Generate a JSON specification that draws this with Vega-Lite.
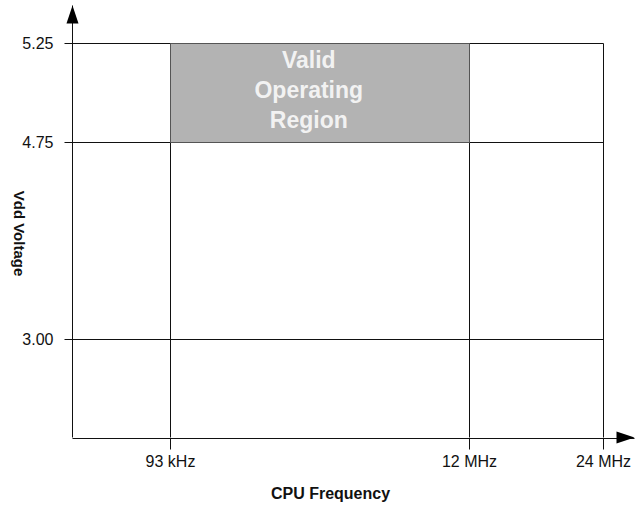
{
  "$schema": "https://vega.github.io/schema/vega-lite/v6.json",
  "width": 563,
  "height": 433,
  "autosize": {"type": "none"},
  "padding": {"left": 72.5, "top": 5.5, "right": 0, "bottom": 67.5},
  "background": "white",
  "config": {"view": {"stroke": null}, "font": "Liberation Sans"},
  "encoding": {
    "x": {
      "field": "f", "type": "quantitative",
      "scale": {"domain": [0, 93, 12000, 24000, 28000], "range": [0, 98, 397, 531, 562], "nice": false, "zero": false},
      "axis": {
        "values": [93, 12000, 24000],
        "labelExpr": "datum.value == 93 ? '93 kHz' : datum.value == 12000 ? '12 MHz' : '24 MHz'",
        "translate": 0,
        "grid": false, "tickSize": 11, "tickColor": "#111", "domainColor": "#111",
        "labelFontSize": 16, "labelColor": "#111", "labelPadding": 4, "labelOverlap": false, "labelFlush": false,
        "title": "CPU Frequency", "titleFontSize": 16, "titleFontWeight": "bold", "titleColor": "#111",
        "titleX": 258, "titleY": 60, "titleBaseline": "alphabetic", "titleAlign": "center"
      }
    },
    "y": {
      "field": "v", "type": "quantitative",
      "scale": {"domain": [0, 3, 4.75, 5.25, 5.6], "range": [432, 334, 137, 38, 0], "nice": false, "zero": false},
      "axis": {
        "values": [3, 4.75, 5.25], "format": ".2f",
        "translate": 0,
        "grid": false, "tickSize": 8, "tickColor": "#111", "domainColor": "#111",
        "labelFontSize": 16, "labelColor": "#111", "labelPadding": 11, "labelOverlap": false, "labelFlush": false,
        "title": "Vdd Voltage", "titleFontSize": 15, "titleFontWeight": "bold", "titleColor": "#111",
        "titleAngle": 90, "titleX": -54, "titleY": 228, "titleAlign": "center", "titleBaseline": "middle"
      }
    }
  },
  "layer": [
    {
      "data": {"values": [
        {"f": 0, "f2": 24000, "v": 5.25},
        {"f": 0, "f2": 24000, "v": 4.75},
        {"f": 0, "f2": 24000, "v": 3.0}
      ]},
      "mark": {"type": "rule", "color": "#111", "strokeWidth": 1},
      "encoding": {"x2": {"field": "f2"}}
    },
    {
      "data": {"values": [
        {"f": 93, "v": 0, "v2": 4.75},
        {"f": 12000, "v": 0, "v2": 4.75},
        {"f": 24000, "v": 0, "v2": 5.25}
      ]},
      "mark": {"type": "rule", "color": "#111", "strokeWidth": 1},
      "encoding": {"y2": {"field": "v2"}}
    },
    {
      "data": {"values": [{"f": 93, "f2": 12000, "v": 4.75, "v2": 5.25}]},
      "mark": {"type": "rect", "fill": "#b3b3b3", "stroke": "#555555", "strokeWidth": 1},
      "encoding": {"x2": {"field": "f2"}, "y2": {"field": "v2"}}
    },
    {
      "data": {"values": [{"f": 5600, "v": 5.0, "label": ["Valid", "Operating", "Region"]}]},
      "mark": {"type": "text", "color": "#f2f2f2", "fontSize": 23, "fontWeight": "bold", "align": "center", "baseline": "middle", "lineHeight": 30, "dy": -32},
      "encoding": {"text": {"field": "label"}}
    },
    {
      "data": {"values": [{"f": 0, "v": 5.6}]},
      "mark": {"type": "point", "shape": "M0,0L0.667,2L-0.667,2Z", "size": 324, "filled": true, "color": "#000", "opacity": 1, "strokeWidth": 0}
    },
    {
      "data": {"values": [{"f": 28000, "v": 0}]},
      "mark": {"type": "point", "shape": "M0,0L-2,-0.667L-2,0.667Z", "size": 324, "filled": true, "color": "#000", "opacity": 1, "strokeWidth": 0}
    }
  ]
}
